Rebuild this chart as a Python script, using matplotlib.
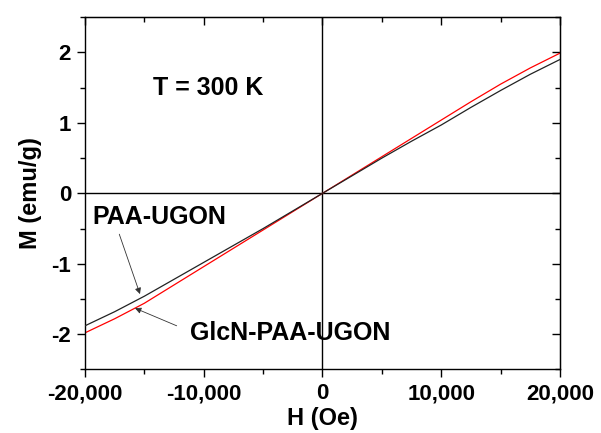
import matplotlib
matplotlib.use("Agg")
import matplotlib.pyplot as plt
from matplotlib.ticker import MultipleLocator, FuncFormatter

plt.rcParams['font.family'] = ['Liberation Sans', 'DejaVu Sans']
plt.rcParams['font.weight'] = 'bold'

# Data
H = [-20000, -17500, -15000, -12500, -10000, -7500, -5000, -2500, 0,
     2500, 5000, 7500, 10000, 12500, 15000, 17500, 20000]
M_paa = [-1.88, -1.68, -1.46, -1.22, -0.98, -0.74, -0.50, -0.25, 0.0,
         0.25, 0.50, 0.74, 0.97, 1.22, 1.46, 1.69, 1.90]
M_glcn = [-1.98, -1.78, -1.56, -1.30, -1.04, -0.78, -0.52, -0.26, 0.0,
          0.26, 0.52, 0.78, 1.04, 1.30, 1.55, 1.78, 1.99]

label_paa = "PAA-UGON"
label_glcn = "GlcN-PAA-UGON"
temp_text = "T = 300 K"
xlabel = "H (Oe)"
ylabel = "M (emu/g)"

fig = plt.figure(figsize=(6.01, 4.33), dpi=100)
ax = fig.add_axes([0.1414, 0.1467, 0.7904, 0.8136])

ax.axhline(0, color='black', lw=1.0, zorder=1)
ax.axvline(0, color='black', lw=1.0, zorder=1)
ax.plot(H, M_paa, color='#222222', lw=0.9, zorder=3)
ax.plot(H, M_glcn, color='#ff0000', lw=0.9, zorder=2)

ax.set_xlim(-20000, 20000)
ax.set_ylim(-2.5, 2.5)

ax.xaxis.set_major_locator(MultipleLocator(10000))
ax.xaxis.set_minor_locator(MultipleLocator(5000))
ax.yaxis.set_major_locator(MultipleLocator(1))
ax.yaxis.set_minor_locator(MultipleLocator(0.5))
ax.xaxis.set_major_formatter(FuncFormatter(lambda v, p: f"{int(round(v)):,}"))
ax.yaxis.set_major_formatter(FuncFormatter(lambda v, p: f"{int(round(v))}"))

ax.tick_params(which='both', direction='out', width=1.0, labelsize=16, pad=4)
ax.tick_params(which='major', length=6)
ax.tick_params(which='minor', length=3.5)
for lab in ax.get_xticklabels() + ax.get_yticklabels():
    lab.set_fontweight('bold')
for s in ax.spines.values():
    s.set_linewidth(1.0)

# mirrored axes with inward ticks
secx = ax.secondary_xaxis('top')
secx.xaxis.set_major_locator(MultipleLocator(10000))
secx.xaxis.set_minor_locator(MultipleLocator(5000))
secx.tick_params(which='both', direction='in', labeltop=False, width=1.0)
secx.tick_params(which='major', length=6)
secx.tick_params(which='minor', length=3.5)
secy = ax.secondary_yaxis('right')
secy.yaxis.set_major_locator(MultipleLocator(1))
secy.yaxis.set_minor_locator(MultipleLocator(0.5))
secy.tick_params(which='both', direction='in', labelright=False, width=1.0)
secy.tick_params(which='major', length=6)
secy.tick_params(which='minor', length=3.5)

ax.set_xlabel(xlabel, fontsize=17, fontweight='bold', labelpad=2)
ax.set_ylabel(ylabel, fontsize=17, fontweight='bold', labelpad=7)

ax.text(-14274, 1.394, temp_text, fontsize=18, fontweight='bold', ha='left', va='baseline')
ax.text(-19385, -0.44, label_paa, fontsize=18, fontweight='bold', ha='left', va='baseline')
ax.text(-11158, -2.08, label_glcn, fontsize=18, fontweight='bold', ha='left', va='baseline')

ax.annotate("", xy=(-15368, -1.43), xytext=(-17112, -0.58),
            arrowprops=dict(arrowstyle='-|>', color='#333333', lw=0.6,
                            mutation_scale=9, shrinkA=0, shrinkB=0))
ax.annotate("", xy=(-15789, -1.63), xytext=(-12278, -1.88),
            arrowprops=dict(arrowstyle='-|>', color='#333333', lw=0.6,
                            mutation_scale=9, shrinkA=0, shrinkB=0))

fig.savefig("out.png", dpi=100)
